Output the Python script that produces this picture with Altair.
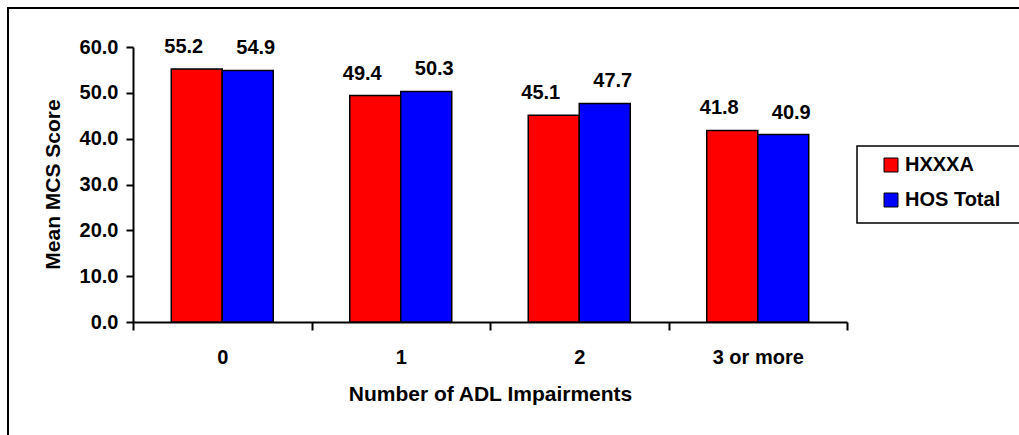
import altair as alt
import pandas as pd

categories = ["0", "1", "2", "3 or more"]
hxxxa = [55.2, 49.4, 45.1, 41.8]
hos_total = [54.9, 50.3, 47.7, 40.9]
series = ["HXXXA", "HOS Total"]
colors = ["#FF0000", "#0000FF"]
y_ticks = [0, 10, 20, 30, 40, 50, 60]

rows = []
for c, a, b in zip(categories, hxxxa, hos_total):
    rows.append({"cat": c, "series": series[0], "value": a})
    rows.append({"cat": c, "series": series[1], "value": b})
df = pd.DataFrame(rows)

FONT = "Liberation Sans"
W, H = 714, 275
FS = 20
TFS = 21

x_enc = alt.X(
    "cat:N",
    sort=categories,
    scale=alt.Scale(paddingInner=0, paddingOuter=0),
    axis=alt.Axis(
        title="Number of ADL Impairments",
        labelAngle=0,
        tickBand="extent",
        tickSize=8,
        tickWidth=2,
        tickColor="black",
        domainColor="black",
        domainWidth=2,
        labelFont=FONT,
        labelFontSize=FS,
        labelFontWeight="bold",
        labelColor="black",
        labelBaseline="alphabetic",
        labelPadding=33,
        titleFont=FONT,
        titleFontSize=TFS,
        titleFontWeight="bold",
        titleColor="black",
        titleBaseline="alphabetic",
        titleY=78,
        grid=False,
    ),
)
xo_enc = alt.XOffset(
    "series:N", sort=series, scale=alt.Scale(paddingInner=0, paddingOuter=0.75)
)
y_enc = alt.Y(
    "value:Q",
    scale=alt.Scale(domain=[0, 60], nice=False),
    axis=alt.Axis(
        title="Mean MCS Score",
        values=y_ticks,
        format=".1f",
        tickSize=7,
        tickWidth=2,
        tickColor="black",
        domainColor="black",
        domainWidth=2,
        labelFont=FONT,
        labelFontSize=FS,
        labelFontWeight="bold",
        labelColor="black",
        labelPadding=8,
        titleFont=FONT,
        titleFontSize=TFS,
        titleFontWeight="bold",
        titleColor="black",
        titleBaseline="alphabetic",
        titleAngle=-90,
        titleX=-74,
        titleY=137,
        titleAlign="center",
        grid=False,
    ),
)

bars = alt.Chart(df).mark_bar(stroke="black", strokeWidth=1.5).encode(
    x=x_enc,
    xOffset=xo_enc,
    y=y_enc,
    color=alt.Color(
        "series:N",
        sort=series,
        scale=alt.Scale(domain=series, range=colors),
        legend=alt.Legend(
            title=None,
            orient="none",
            legendX=748,
            legendY=108,
            direction="vertical",
            symbolType="square",
            symbolSize=196,
            symbolStrokeColor="black",
            symbolStrokeWidth=1,
            symbolOpacity=1,
            labelFont=FONT,
            labelFontSize=FS,
            labelFontWeight="bold",
            labelColor="black",
            labelOffset=4,
            rowPadding=15,
            padding=0,
        ),
    ),
)

def labels(name, dx):
    return (
        alt.Chart(df)
        .transform_filter(alt.datum.series == name)
        .mark_text(
            font=FONT,
            fontSize=FS,
            fontWeight="bold",
            color="black",
            baseline="alphabetic",
            align="center",
            dy=-16,
            dx=dx,
        )
        .encode(
            x=alt.X("cat:N", sort=categories),
            xOffset=alt.XOffset("series:N", sort=series),
            y=alt.Y("value:Q"),
            text=alt.Text("value:Q", format=".1f"),
        )
    )

frame_data = alt.Data(values=[{"k": 1}])
outer_frame = alt.Chart(frame_data).mark_rect(
    fill=None, stroke="black", strokeWidth=2
).encode(
    x=alt.value(-125), x2=alt.value(900), y=alt.value(-39), y2=alt.value(400)
)
legend_frame = alt.Chart(frame_data).mark_rect(
    fill="white", stroke="black", strokeWidth=1.5
).encode(
    x=alt.value(724), x2=alt.value(897), y=alt.value(99), y2=alt.value(176)
)

chart = (
    alt.layer(outer_frame, legend_frame, bars, labels(series[0], -13), labels(series[1], 8))
    .properties(
        width=W,
        height=H,
        autosize=alt.AutoSizeParams(type="none"),
        padding={"left": 133, "top": 47, "right": 172, "bottom": 113},
        background="white",
    )
    .configure_view(strokeWidth=0)
)

chart.save("out.html", embed_options={"renderer": "svg", "actions": False})
